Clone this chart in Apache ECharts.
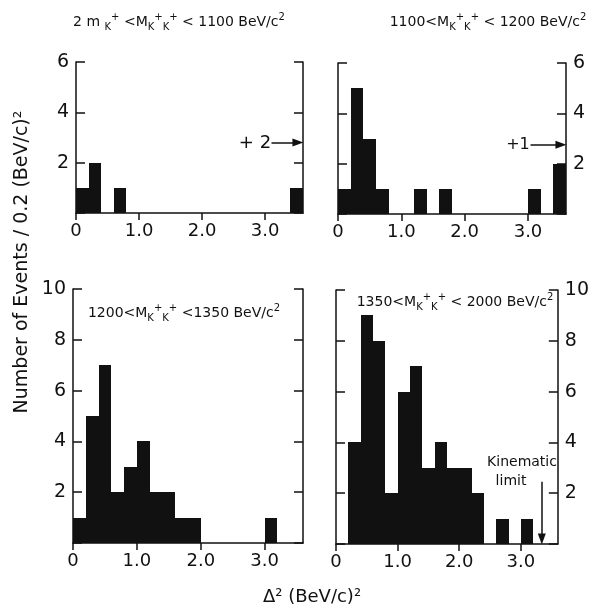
<!DOCTYPE html>
<html>
<head>
<meta charset="utf-8">
<script src="https://cdn.jsdelivr.net/npm/echarts@6/dist/echarts.min.js"></script>
<style>
  html, body { margin: 0; padding: 0; background: #fff; }
  #chart { width: 592px; height: 611px; }
</style>
</head>
<body>
<div id="chart"></div>
<script>
// bin lower edges, width 0.2 (BeV/c)^2
const binStarts = [0, 0.2, 0.4, 0.6, 0.8, 1.0, 1.2, 1.4, 1.6, 1.8, 2.0, 2.2, 2.4, 2.6, 2.8, 3.0, 3.2, 3.4];
const BIN = 0.2;

// events per bin, one array per mass range
const counts1100 = [1, 2, 0, 1, 0, 0, 0, 0, 0, 0, 0, 0, 0, 0, 0, 0, 0, 1];
const counts1200 = [1, 5, 3, 1, 0, 0, 1, 0, 1, 0, 0, 0, 0, 0, 0, 1, 0, 2];
const counts1350 = [1, 5, 7, 2, 3, 4, 2, 2, 1, 1, 0, 0, 0, 0, 0, 1, 0, 0];
const counts2000 = [0, 4, 9, 8, 2, 6, 7, 3, 4, 3, 3, 2, 0, 1, 0, 1, 0, 0];

const xTicks = [0, 1, 2, 3];
const xTickLabels = ['0', '1.0', '2.0', '3.0'];

const INK = '#111';
const FONT = 'DejaVu Sans';

const panels = [
    { counts: counts1100, ymax: 6, labelSide: 'left', grid: { left: 76, top: 62, width: 227, height: 151 } },
    { counts: counts1200, ymax: 6, labelSide: 'right', grid: { left: 338, top: 63, width: 228, height: 151 } },
    { counts: counts1350, ymax: 10, labelSide: 'left', grid: { left: 73, top: 289, width: 230, height: 254 } },
    { counts: counts2000, ymax: 10, labelSide: 'right', grid: { left: 336, top: 290, width: 229, height: 254 } },
];

function renderBar(params, api) {
    const x0 = api.value(0);
    const h = api.value(1);
    if (!h) return;
    const p0 = api.coord([x0, h]);
    const p1 = api.coord([x0 + BIN, 0]);
    const left = Math.round(p0[0]), right = Math.round(p1[0]);
    return {
        type: 'rect',
        shape: { x: left, y: Math.round(p0[1]), width: right - left, height: Math.round(p1[1]) - Math.round(p0[1]) },
        style: { fill: INK }
    };
}

const grid = [], xAxis = [], yAxis = [], series = [];

panels.forEach((p, i) => {
    grid.push(p.grid);
    xAxis.push({
        gridIndex: i,
        type: 'value',
        min: 0,
        max: 3.6,
        axisLine: { lineStyle: { color: INK, width: 1.5 } },
        axisTick: { customValues: xTicks, length: 7, lineStyle: { color: INK, width: 1.5 } },
        axisLabel: {
            customValues: xTicks,
            formatter: v => xTickLabels[xTicks.indexOf(v)] || '',
            color: INK, fontSize: 18, fontFamily: FONT, margin: 9
        },
        splitLine: { show: false }
    });
    ['left', 'right'].forEach(side => {
        yAxis.push({
            gridIndex: i,
            type: 'value',
            position: side,
            min: 0,
            max: p.ymax,
            interval: 2,
            axisLine: { show: true, lineStyle: { color: INK, width: 1.5 } },
            axisTick: { show: true, inside: true, length: 9, lineStyle: { color: INK, width: 1.5 } },
            axisLabel: {
                show: side === p.labelSide,
                formatter: v => (v === 0 ? '' : String(v)),
                color: INK, fontSize: 19, fontFamily: FONT, margin: 7
            },
            splitLine: { show: false }
        });
    });
    series.push({
        type: 'custom',
        xAxisIndex: i,
        yAxisIndex: i * 2,
        renderItem: renderBar,
        data: binStarts.map((b, k) => [b, p.counts[k]]),
        silent: true
    });
});

// overflow arrows ("+2", "+1") and kinematic limit
const arrowLine = (xi, from, to) => ({
    type: 'line',
    xAxisIndex: xi,
    yAxisIndex: xi * 2,
    data: [],
    markLine: {
        silent: true,
        symbol: ['none', 'triangle'],
        symbolSize: [8, 11],
        label: { show: false },
        lineStyle: { color: INK, width: 1.5, type: 'solid' },
        data: [[{ coord: from }, { coord: to }]]
    }
});
series.push(arrowLine(0, [3.1, 2.8], [3.52, 2.8]));
series.push(arrowLine(1, [3.04, 2.75], [3.52, 2.75]));
series.push(arrowLine(3, [3.34, 2.45], [3.34, 0.2]));

const titleRich = {
    s: { fontSize: 10, fontFamily: FONT, color: INK, verticalAlign: 'bottom', lineHeight: 20 },
    p: { fontSize: 10, fontFamily: FONT, color: INK, verticalAlign: 'top', lineHeight: 16 },
    n: { fontSize: 14, fontFamily: FONT, color: INK, lineHeight: 20 }
};
function titleText(x, y, text) {
    return {
        type: 'text', x: x, y: y,
        style: { text: text, rich: titleRich, fill: INK, font: '14px ' + FONT, align: 'center', verticalAlign: 'middle' }
    };
}

const option = {
    backgroundColor: '#fff',
    animation: false,
    grid, xAxis, yAxis, series,
    graphic: [
        titleText(179, 22, '{n|2 m }{s|K}{p|+}{n| <M}{s|K}{p|+}{s|K}{p|+}{n| < 1100 BeV/c}{p|2}'),
        titleText(488, 22, '{n|1100<M}{s|K}{p|+}{s|K}{p|+}{n| < 1200 BeV/c}{p|2}'),
        titleText(184, 313, '{n|1200<M}{s|K}{p|+}{s|K}{p|+}{n| <1350 BeV/c}{p|2}'),
        titleText(455, 302, '{n|1350<M}{s|K}{p|+}{s|K}{p|+}{n| < 2000 BeV/c}{p|2}'),
        { type: 'text', x: 255, y: 143, style: { text: '+ 2', fill: INK, font: '18px ' + FONT, align: 'center', verticalAlign: 'middle' } },
        { type: 'text', x: 518, y: 145, style: { text: '+1', fill: INK, font: '16px ' + FONT, align: 'center', verticalAlign: 'middle' } },
        { type: 'text', x: 522, y: 462, style: { text: 'Kinematic', fill: INK, font: '14px ' + FONT, align: 'center', verticalAlign: 'middle' } },
        { type: 'text', x: 511, y: 481, style: { text: 'limit', fill: INK, font: '14px ' + FONT, align: 'center', verticalAlign: 'middle' } },
        {
            type: 'text', x: 22, y: 262, rotation: Math.PI / 2,
            style: { text: 'Number of Events / 0.2 (BeV/c)²', fill: INK, font: '19px ' + FONT, align: 'center', verticalAlign: 'middle' }
        },
        { type: 'text', x: 312, y: 597, style: { text: 'Δ² (BeV/c)²', fill: INK, font: '18px ' + FONT, align: 'center', verticalAlign: 'middle' } }
    ]
};

const myChart = echarts.init(document.getElementById('chart'), null, { renderer: 'canvas' });
myChart.setOption(option);
</script>
</body>
</html>
